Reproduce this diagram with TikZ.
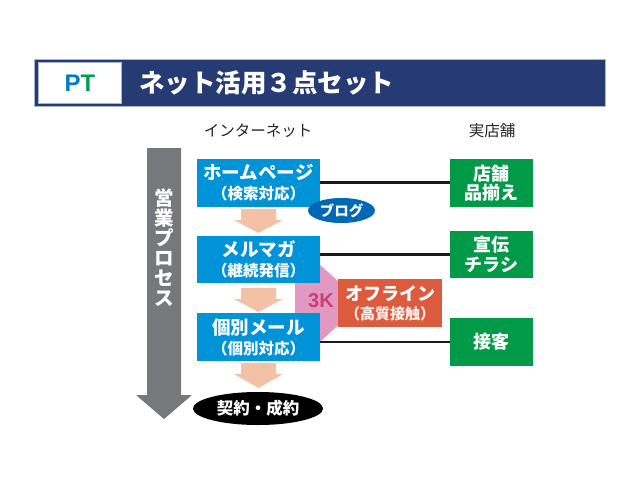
\documentclass[tikz,border=0pt]{standalone}
\usepackage{fontspec}
\setmainfont{Noto Sans CJK JP}
\newfontfamily\latinbold{Liberation Sans}
\usetikzlibrary{shapes.geometric}
\definecolor{navy}{HTML}{263B73}
\definecolor{navyedge}{HTML}{A9B4CF}
\definecolor{netblue}{HTML}{0093D8}
\definecolor{blogblue}{HTML}{0068B6}
\definecolor{shopgreen}{HTML}{009A48}
\definecolor{offorange}{HTML}{DD5B3D}
\definecolor{pinkk}{HTML}{E198C3}
\definecolor{kred}{HTML}{CC3D74}
\definecolor{salmon}{HTML}{F5C1A6}
\definecolor{grayarrow}{HTML}{76787C}
\definecolor{ptblue}{HTML}{0079C6}
\definecolor{ptgreen}{HTML}{00A050}
\tikzset{
  netbox/.style={fill=netblue, text=white, minimum width=123pt, minimum height=48pt, inner sep=0pt, align=center, font=\bfseries\fontsize{18.5}{20}\selectfont},
  shopbox/.style={fill=shopgreen, text=white, minimum width=83pt, minimum height=48pt, inner sep=0pt, align=center, font=\bfseries\fontsize{18}{19.5}\selectfont},
  colhead/.style={text=black!85, font=\fontsize{15.5}{18}\selectfont},
  link/.style={draw=black!90, line width=2.2pt},
  sal/.style={fill=salmon},
}
\newcommand{\subl}[1]{{\fontsize{15.5}{20}\selectfont #1}}
\newcommand{\salarrow}[3]{\fill[sal] (241,#1) -- (276,#1) -- (276,#2) -- (283,#2) -- (258.5,#3) -- (234,#2) -- (241,#2) -- cycle;}
\begin{document}
\begin{tikzpicture}[x=1pt,y=-1pt]
\useasboundingbox[fill=white] (0,0) rectangle (640,480);
% header
\node[draw=navyedge, line width=1pt, fill=navy, minimum width=571pt, minimum height=47pt, inner sep=0pt] (hdr) at (319.5,82.5) {};
\node[draw=navyedge, line width=0.6pt, fill=white, minimum width=83pt, minimum height=41pt, inner sep=0pt] (ptbox) at (79.5,82.5) {};
\node[font=\latinbold\bfseries\fontsize{24}{24}\selectfont, inner sep=0pt] (pt) at (80,83) {\textcolor{ptblue}{P}\textcolor{ptgreen}{T}};
\node[anchor=west, text=white, font=\bfseries\fontsize{25.5}{27}\selectfont, inner sep=0pt] (title) at (139,83) {ネット活用３点セット};
% column heads
\node[colhead] (inet) at (258,131) {インターネット};
\node[colhead] (shop) at (492,131) {実店舗};
% gray process arrow
\fill[grayarrow] (147,148) -- (181,148) -- (181,395) -- (192,395) -- (164,419) -- (136,395) -- (147,395) -- cycle;
\node[text=white, align=center, font=\bfseries\fontsize{19.5}{20}\selectfont, inner sep=0pt] (proc) at (164,247.5) {営\\業\\プ\\ロ\\セ\\ス};
% pink 3K shape
\fill[pinkk] (295,265) -- (320,265) -- (346,288) -- (346,318) -- (320,342) -- (295,342) -- cycle;
% salmon arrows
\salarrow{209}{220}{233}
\salarrow{288}{299}{312}
\salarrow{363}{374}{388}
% internet boxes
\node[netbox] (hp) at (258.5,182.5) {ホームページ\\\subl{（検索対応）}};
\node[netbox, minimum height=47pt] (mm) at (258.5,259.5) {メルマガ\\\subl{（継続発信）}};
\node[netbox] (km) at (258.5,337) {個別メール\\\subl{（個別対応）}};
\node[ellipse, fill=blogblue, text=white, minimum width=67pt, minimum height=25pt, inner sep=0pt, font=\bfseries\fontsize{14.5}{16}\selectfont] (blog) at (341.5,210.5) {ブログ};
\node[ellipse, fill=black, text=white, minimum width=130pt, minimum height=33pt, inner sep=0pt, font=\bfseries\fontsize{16.5}{18}\selectfont] (deal) at (258,408.5) {契約・成約};
% 3K and offline
\node[text=kred, font=\latinbold\bfseries\fontsize{20}{20}\selectfont, inner sep=0pt] (k3) at (321,301) {3K};
\node[fill=offorange, text=white, minimum width=104pt, minimum height=48pt, inner sep=0pt, align=center, font=\bfseries\fontsize{18}{19}\selectfont] (off) at (390,303) {オフライン\\{\color{white!90!offorange}\fontsize{15}{19}\selectfont （高質接触）}};
% shop boxes
\node[shopbox] (g1) at (491.5,183) {店舗\\品揃え};
\node[shopbox, minimum height=47pt] (g2) at (491.5,254.5) {宣伝\\チラシ};
\node[shopbox] (g3) at (491.5,342) {接客};
% links
\draw[link] (hp.east) -- (hp.east -| g1.west);
\draw[link] (mm.east |- g2.west) -- (g2.west);
\draw[link] (km.east |- g3.west) -- (g3.west);
\end{tikzpicture}
\end{document}
